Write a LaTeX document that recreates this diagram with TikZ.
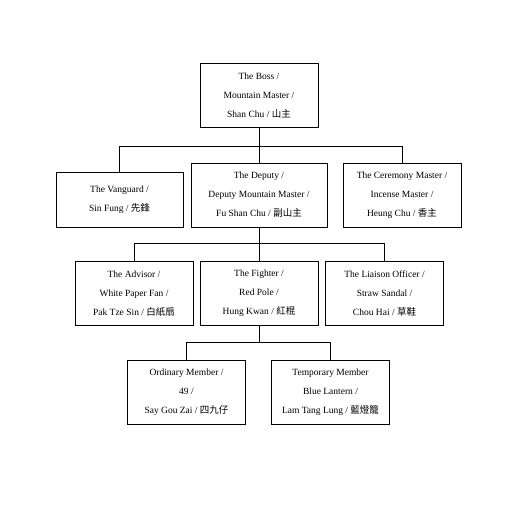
\documentclass[tikz,border=0pt]{standalone}
\usepackage{fontspec}
\setmainfont{Liberation Serif}
\newfontfamily\cjk{Noto Sans CJK TC}
\usetikzlibrary{positioning}
\tikzset{role/.style={rectangle,draw=black,thin,align=center,inner sep=0pt,
  font=\fontsize{9.5}{19}\selectfont}}
\tikzset{wide/.style={minimum width=118pt,minimum height=64pt}}
\begin{document}
\begin{tikzpicture}[x=1pt,y=-1pt]
  \useasboundingbox (0,0) rectangle (519,506);
  % Top level
  \node[role,wide] (boss) at (259,95.5) {The Boss /\\Mountain Master /\\Shan Chu / {\cjk 山主}};

  % Second level
  \node[role,minimum width=127pt,minimum height=55pt] (vanguard) at (119.5,199.5) {The Vanguard /\\Sin Fung / {\cjk 先鋒}};
  \node[role,minimum width=136pt,minimum height=64pt] (deputy) at (259,195) {The Deputy /\\Deputy Mountain Master /\\Fu Shan Chu / {\cjk 副山主}};
  \node[role,wide] (ceremony) at (402,195) {The Ceremony Master /\\Incense Master /\\Heung Chu / {\cjk 香主}};

  \draw (boss.south) -- (deputy.north);
  \draw (boss.south) -- ++(0,18) -| (vanguard.north);
  \draw (boss.south) -- ++(0,18) -| (ceremony.north);

  % Third level
  \node[role,wide] (advisor) at (134,293.5) {The Advisor /\\White Paper Fan /\\Pak Tze Sin / {\cjk 白紙扇}};
  \node[role,wide] (fighter) at (259,293.5) {The Fighter /\\Red Pole /\\Hung Kwan / {\cjk 紅棍}};
  \node[role,wide] (liaison) at (384.5,293.5) {The Liaison Officer /\\Straw Sandal /\\Chou Hai / {\cjk 草鞋}};

  \draw (deputy.south) -- (fighter.north);
  \draw (deputy.south) -- ++(0,16) -| (advisor.north);
  \draw (deputy.south) -- ++(0,16) -| (liaison.north);

  % Members
  \node[role,wide] (ordinary) at (186.5,392.5) {Ordinary Member /\\49 /\\Say Gou Zai / {\cjk 四九仔}};
  \node[role,wide] (temporary) at (330.5,392.5) {Temporary Member\\Blue Lantern /\\Lam Tang Lung / {\cjk 藍燈籠}};

  \draw (fighter.south) -- ++(0,16) -| (ordinary.north);
  \draw (fighter.south) -- ++(0,16) -| (temporary.north);
\end{tikzpicture}
\end{document}
